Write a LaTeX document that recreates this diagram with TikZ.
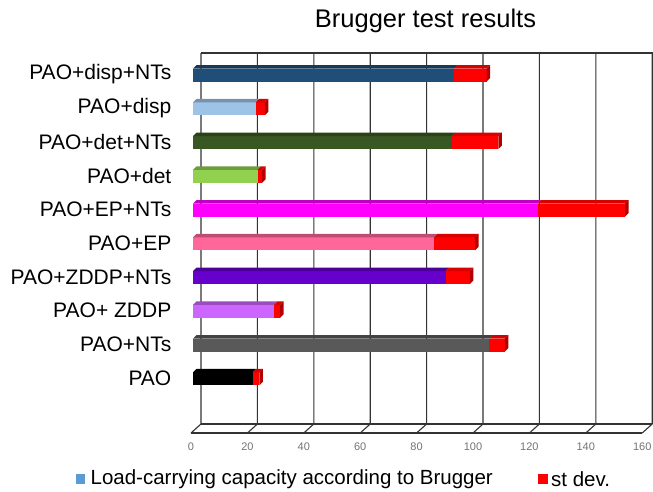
\documentclass[tikz,border=0pt]{standalone}
\usepackage{fontspec}
\setmainfont{Liberation Sans}
\usetikzlibrary{positioning}

\definecolor{cdispnts}{RGB}{31,78,121}
\definecolor{cdisp}{RGB}{157,195,230}
\definecolor{cdetnts}{RGB}{56,87,35}
\definecolor{cdet}{RGB}{146,208,80}
\definecolor{cepnts}{RGB}{255,0,255}
\definecolor{cep}{RGB}{255,102,153}
\definecolor{czddpnts}{RGB}{102,0,204}
\definecolor{czddp}{RGB}{204,102,255}
\definecolor{cnts}{RGB}{89,89,89}
\definecolor{cpao}{RGB}{0,0,0}
\definecolor{cload}{RGB}{91,155,213}
\definecolor{cdev}{RGB}{255,0,0}

\begin{document}
\begin{tikzpicture}[
    x=1pt, y=-1pt,
    gridline/.style={draw=black!80,line width=1.1pt},
    barlabel/.style={anchor=east,inner sep=0pt,font=\fontsize{21}{25}\selectfont},
    ticklabel/.style={text=black!55,inner sep=0pt,font=\fontsize{11}{13}\selectfont},
    legbox/.style={minimum size=9.5pt,inner sep=0pt},
    legtext/.style={inner sep=0pt,font=\fontsize{20.5}{24}\selectfont}
    ]

    \useasboundingbox (0,0) rectangle (653,491);

    % grid and floor
    \foreach \i in {0,...,8} {
        \draw[gridline] (201+56.4*\i,53) -- (201+56.4*\i,424)
            -- (191+56.4*\i,433);
        \node[ticklabel] (tick\i) at (191+56.4*\i,447) {\pgfmathparse{int(20*\i)}\pgfmathresult};
    }
    \draw[gridline] (201,53) -- (653,53);
    \draw[gridline] (201,424) -- (652.2,424);
    \draw[gridline] (191,433) -- (642.2,433);

    \node[font=\fontsize{25.5}{30}\selectfont] (title) at (425.5,21) {Brugger test results};

    % bars
    \foreach \lab/\val/\dev/\col [count=\i] in {
        PAO+disp+NTs/92.6/104.1/cdispnts,
        PAO+disp/22.3/25.5/cdisp,
        PAO+det+NTs/92.0/108.3/cdetnts,
        PAO+det/22.9/24.5/cdet,
        PAO+EP+NTs/122.2/153.2/cepnts,
        PAO+EP/85.5/100.0/cep,
        PAO+ZDDP+NTs/89.6/98.2/czddpnts,
        PAO+ ZDDP/28.8/30.9/czddp,
        PAO+NTs/105.0/110.6/cnts,
        PAO/21.2/23.5/cpao} {
        \pgfmathsetmacro\yc{74+33.75*(\i-1)}
        \pgfmathsetmacro\xa{193+2.82*\val}
        \pgfmathsetmacro\xb{193+2.82*\dev}
        \node[barlabel] (lab\i) at (171.5,\yc+0.5) {\lab};
        \fill[\col] (193,\yc-5.5) rectangle (\xa,\yc+7.5);
        \fill[\col!75!black] (193,\yc-5.5) -- (196.5,\yc-9) -- (\xa+3.5,\yc-9)
            -- (\xa,\yc-5.5) -- cycle;
        \fill[cdev] (\xa,\yc-5.5) rectangle (\xb,\yc+7.5);
        \fill[cdev!85!black] (\xa,\yc-5.5) -- (\xa+3.5,\yc-9) -- (\xb+3.5,\yc-9)
            -- (\xb,\yc-5.5) -- cycle;
        \fill[cdev!70!black] (\xb,\yc-5.5) -- (\xb+3.5,\yc-9) -- (\xb+3.5,\yc+4)
            -- (\xb,\yc+7.5) -- cycle;
    }

    % legend
    \node[legbox,fill=cload] (legload) at (80.5,479) {};
    \node[legtext,right=5pt of legload] (legloadtext) {Load-carrying capacity according to Brugger};
    \node[legbox,fill=cdev] (legdev) at (543,479) {};
    \node[legtext,right=3pt of legdev] (legdevtext) {st dev.};

\end{tikzpicture}
\end{document}
